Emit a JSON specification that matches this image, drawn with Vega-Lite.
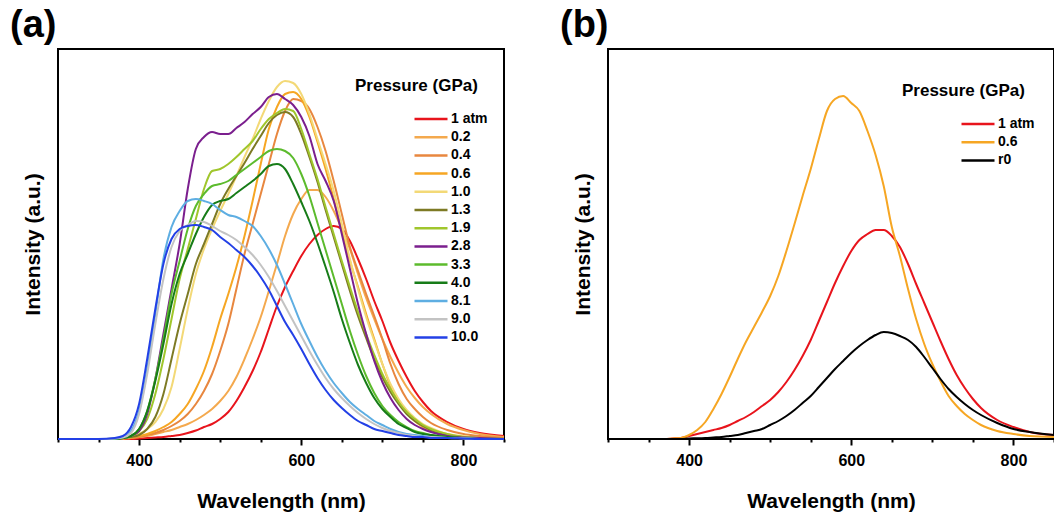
{
  "$schema": "https://vega.github.io/schema/vega-lite/v6.json",
  "background": "white",
  "padding": {"left": 9, "top": 6, "right": 0, "bottom": 0},
  "spacing": 50,
  "config": {
    "font": "Liberation Sans",
    "view": {"stroke": "black", "strokeWidth": 2},
    "axisX": {
      "grid": false, "domain": false, "tickColor": "black", "tickWidth": 2,
      "tickSize": {"expr": "datum.value % 200 == 0 ? 6 : 3"},
      "values": [400, 500, 600, 700, 800],
      "labelExpr": "datum.value % 200 == 0 ? datum.label : ''",
      "labelFontSize": 16, "labelFontWeight": "bold", "labelColor": "black", "labelPadding": 7,
      "titleFontSize": 21, "titleFontWeight": "bold", "titleColor": "black", "titlePadding": 22
    },
    "axisY": {
      "grid": false, "domain": false, "ticks": false, "labels": false,
      "titleFontSize": 21, "titleFontWeight": "bold", "titleColor": "black", "titlePadding": 15
    },
    "legend": {
      "orient": "none", "titleFontSize": 17, "titleFontWeight": "bold", "titleColor": "black",
      "titlePadding": 17, "labelFontSize": 14, "labelFontWeight": "bold", "labelColor": "black",
      "symbolType": "stroke", "symbolSize": 1089, "symbolStrokeWidth": 2.5, "symbolOffset": 58,
      "clipHeight": 14, "rowPadding": 4.2, "labelOffset": 2
    },
    "title": {"fontSize": 38, "fontWeight": "bold", "font": "Liberation Sans", "color": "black", "anchor": "start", "frame": "bounds", "offset": 0, "dx": -12}
  },
  "resolve": {"scale": {"color": "independent", "x": "independent", "y": "independent"}, "legend": {"color": "independent"}},
  "datasets": {
    "a": [
{"p":"1 atm","x":300,"y":0},{"p":"1 atm","x":350,"y":0},{"p":"1 atm","x":370,"y":0},{"p":"1 atm","x":380,"y":0},{"p":"1 atm","x":390,"y":0},{"p":"1 atm","x":400,"y":0.5},{"p":"1 atm","x":410,"y":1},{"p":"1 atm","x":420,"y":1.5},{"p":"1 atm","x":430,"y":2},{"p":"1 atm","x":440,"y":3},{"p":"1 atm","x":450,"y":4},{"p":"1 atm","x":460,"y":6},{"p":"1 atm","x":470,"y":8.5},{"p":"1 atm","x":480,"y":12},{"p":"1 atm","x":490,"y":15},{"p":"1 atm","x":500,"y":20},{"p":"1 atm","x":510,"y":27},{"p":"1 atm","x":520,"y":38},{"p":"1 atm","x":530,"y":52},{"p":"1 atm","x":540,"y":68},{"p":"1 atm","x":550,"y":87},{"p":"1 atm","x":560,"y":110},{"p":"1 atm","x":570,"y":133},{"p":"1 atm","x":580,"y":152},{"p":"1 atm","x":590,"y":168},{"p":"1 atm","x":600,"y":183},{"p":"1 atm","x":610,"y":195},{"p":"1 atm","x":620,"y":204},{"p":"1 atm","x":630,"y":210},{"p":"1 atm","x":640,"y":213},{"p":"1 atm","x":650,"y":210},{"p":"1 atm","x":660,"y":198},{"p":"1 atm","x":670,"y":180},{"p":"1 atm","x":680,"y":160},{"p":"1 atm","x":690,"y":138},{"p":"1 atm","x":700,"y":118},{"p":"1 atm","x":710,"y":96},{"p":"1 atm","x":720,"y":78},{"p":"1 atm","x":730,"y":62},{"p":"1 atm","x":740,"y":48},{"p":"1 atm","x":750,"y":37},{"p":"1 atm","x":760,"y":28},{"p":"1 atm","x":780,"y":17},{"p":"1 atm","x":800,"y":10},{"p":"1 atm","x":820,"y":6},{"p":"1 atm","x":850,"y":3},
{"p":"0.2","x":300,"y":0},{"p":"0.2","x":350,"y":0},{"p":"0.2","x":370,"y":0},{"p":"0.2","x":380,"y":0.5},{"p":"0.2","x":390,"y":1},{"p":"0.2","x":400,"y":2},{"p":"0.2","x":410,"y":3},{"p":"0.2","x":420,"y":5},{"p":"0.2","x":430,"y":7},{"p":"0.2","x":440,"y":9},{"p":"0.2","x":450,"y":12},{"p":"0.2","x":460,"y":15},{"p":"0.2","x":470,"y":19},{"p":"0.2","x":480,"y":24},{"p":"0.2","x":490,"y":30},{"p":"0.2","x":500,"y":38},{"p":"0.2","x":510,"y":48},{"p":"0.2","x":520,"y":62},{"p":"0.2","x":530,"y":80},{"p":"0.2","x":540,"y":100},{"p":"0.2","x":550,"y":122},{"p":"0.2","x":560,"y":148},{"p":"0.2","x":570,"y":175},{"p":"0.2","x":580,"y":203},{"p":"0.2","x":590,"y":225},{"p":"0.2","x":600,"y":240},{"p":"0.2","x":610,"y":249},{"p":"0.2","x":620,"y":249},{"p":"0.2","x":630,"y":242},{"p":"0.2","x":640,"y":228},{"p":"0.2","x":650,"y":210},{"p":"0.2","x":660,"y":190},{"p":"0.2","x":670,"y":165},{"p":"0.2","x":680,"y":141},{"p":"0.2","x":690,"y":120},{"p":"0.2","x":700,"y":100},{"p":"0.2","x":710,"y":82},{"p":"0.2","x":720,"y":66},{"p":"0.2","x":730,"y":52},{"p":"0.2","x":740,"y":41},{"p":"0.2","x":750,"y":32},{"p":"0.2","x":760,"y":25},{"p":"0.2","x":780,"y":15},{"p":"0.2","x":800,"y":9},{"p":"0.2","x":820,"y":5},{"p":"0.2","x":850,"y":2},
{"p":"0.4","x":300,"y":0},{"p":"0.4","x":350,"y":0},{"p":"0.4","x":370,"y":0},{"p":"0.4","x":380,"y":0.5},{"p":"0.4","x":390,"y":1},{"p":"0.4","x":400,"y":2},{"p":"0.4","x":410,"y":4},{"p":"0.4","x":420,"y":6},{"p":"0.4","x":430,"y":9},{"p":"0.4","x":440,"y":13},{"p":"0.4","x":450,"y":18},{"p":"0.4","x":460,"y":25},{"p":"0.4","x":470,"y":35},{"p":"0.4","x":480,"y":48},{"p":"0.4","x":490,"y":65},{"p":"0.4","x":500,"y":88},{"p":"0.4","x":510,"y":115},{"p":"0.4","x":520,"y":150},{"p":"0.4","x":530,"y":185},{"p":"0.4","x":540,"y":215},{"p":"0.4","x":550,"y":245},{"p":"0.4","x":560,"y":275},{"p":"0.4","x":570,"y":305},{"p":"0.4","x":580,"y":328},{"p":"0.4","x":590,"y":340},{"p":"0.4","x":600,"y":338},{"p":"0.4","x":610,"y":330},{"p":"0.4","x":620,"y":312},{"p":"0.4","x":630,"y":288},{"p":"0.4","x":640,"y":258},{"p":"0.4","x":650,"y":225},{"p":"0.4","x":660,"y":192},{"p":"0.4","x":670,"y":168},{"p":"0.4","x":680,"y":145},{"p":"0.4","x":690,"y":123},{"p":"0.4","x":700,"y":100},{"p":"0.4","x":710,"y":75},{"p":"0.4","x":720,"y":55},{"p":"0.4","x":730,"y":40},{"p":"0.4","x":740,"y":30},{"p":"0.4","x":750,"y":22},{"p":"0.4","x":760,"y":16},{"p":"0.4","x":780,"y":9},{"p":"0.4","x":800,"y":5},{"p":"0.4","x":820,"y":3},{"p":"0.4","x":850,"y":1},
{"p":"0.6","x":300,"y":0},{"p":"0.6","x":350,"y":0},{"p":"0.6","x":370,"y":0},{"p":"0.6","x":380,"y":0.5},{"p":"0.6","x":390,"y":1.5},{"p":"0.6","x":400,"y":3},{"p":"0.6","x":410,"y":5},{"p":"0.6","x":420,"y":8},{"p":"0.6","x":430,"y":12},{"p":"0.6","x":440,"y":17},{"p":"0.6","x":450,"y":25},{"p":"0.6","x":460,"y":35},{"p":"0.6","x":470,"y":50},{"p":"0.6","x":480,"y":68},{"p":"0.6","x":490,"y":92},{"p":"0.6","x":500,"y":120},{"p":"0.6","x":510,"y":145},{"p":"0.6","x":520,"y":172},{"p":"0.6","x":530,"y":203},{"p":"0.6","x":540,"y":238},{"p":"0.6","x":550,"y":275},{"p":"0.6","x":560,"y":310},{"p":"0.6","x":570,"y":332},{"p":"0.6","x":580,"y":345},{"p":"0.6","x":590,"y":347},{"p":"0.6","x":600,"y":340},{"p":"0.6","x":610,"y":322},{"p":"0.6","x":620,"y":297},{"p":"0.6","x":630,"y":270},{"p":"0.6","x":640,"y":240},{"p":"0.6","x":650,"y":208},{"p":"0.6","x":660,"y":178},{"p":"0.6","x":670,"y":152},{"p":"0.6","x":680,"y":125},{"p":"0.6","x":690,"y":100},{"p":"0.6","x":700,"y":75},{"p":"0.6","x":710,"y":53},{"p":"0.6","x":720,"y":37},{"p":"0.6","x":730,"y":26},{"p":"0.6","x":740,"y":18},{"p":"0.6","x":750,"y":12},{"p":"0.6","x":760,"y":8},{"p":"0.6","x":780,"y":4},{"p":"0.6","x":800,"y":2},{"p":"0.6","x":820,"y":1},{"p":"0.6","x":850,"y":0},
{"p":"1.0","x":300,"y":0},{"p":"1.0","x":350,"y":0},{"p":"1.0","x":370,"y":0.5},{"p":"1.0","x":380,"y":1},{"p":"1.0","x":390,"y":2},{"p":"1.0","x":400,"y":5},{"p":"1.0","x":410,"y":10},{"p":"1.0","x":420,"y":17},{"p":"1.0","x":430,"y":30},{"p":"1.0","x":440,"y":52},{"p":"1.0","x":450,"y":90},{"p":"1.0","x":460,"y":130},{"p":"1.0","x":470,"y":165},{"p":"1.0","x":480,"y":190},{"p":"1.0","x":490,"y":210},{"p":"1.0","x":500,"y":228},{"p":"1.0","x":510,"y":245},{"p":"1.0","x":520,"y":263},{"p":"1.0","x":530,"y":282},{"p":"1.0","x":540,"y":300},{"p":"1.0","x":550,"y":320},{"p":"1.0","x":560,"y":338},{"p":"1.0","x":570,"y":352},{"p":"1.0","x":580,"y":358},{"p":"1.0","x":590,"y":356},{"p":"1.0","x":600,"y":345},{"p":"1.0","x":610,"y":325},{"p":"1.0","x":620,"y":300},{"p":"1.0","x":630,"y":275},{"p":"1.0","x":640,"y":248},{"p":"1.0","x":650,"y":215},{"p":"1.0","x":660,"y":180},{"p":"1.0","x":670,"y":150},{"p":"1.0","x":680,"y":122},{"p":"1.0","x":690,"y":98},{"p":"1.0","x":700,"y":75},{"p":"1.0","x":710,"y":55},{"p":"1.0","x":720,"y":40},{"p":"1.0","x":730,"y":29},{"p":"1.0","x":740,"y":21},{"p":"1.0","x":750,"y":15},{"p":"1.0","x":760,"y":11},{"p":"1.0","x":780,"y":5},{"p":"1.0","x":800,"y":3},{"p":"1.0","x":820,"y":1},{"p":"1.0","x":850,"y":0},
{"p":"1.3","x":300,"y":0},{"p":"1.3","x":350,"y":0},{"p":"1.3","x":370,"y":0},{"p":"1.3","x":380,"y":1},{"p":"1.3","x":390,"y":2},{"p":"1.3","x":400,"y":4},{"p":"1.3","x":410,"y":10},{"p":"1.3","x":420,"y":22},{"p":"1.3","x":430,"y":45},{"p":"1.3","x":440,"y":80},{"p":"1.3","x":450,"y":115},{"p":"1.3","x":460,"y":145},{"p":"1.3","x":470,"y":175},{"p":"1.3","x":480,"y":195},{"p":"1.3","x":490,"y":215},{"p":"1.3","x":500,"y":235},{"p":"1.3","x":510,"y":250},{"p":"1.3","x":520,"y":263},{"p":"1.3","x":530,"y":276},{"p":"1.3","x":540,"y":290},{"p":"1.3","x":550,"y":303},{"p":"1.3","x":560,"y":316},{"p":"1.3","x":570,"y":324},{"p":"1.3","x":580,"y":327},{"p":"1.3","x":590,"y":322},{"p":"1.3","x":600,"y":305},{"p":"1.3","x":610,"y":282},{"p":"1.3","x":620,"y":257},{"p":"1.3","x":630,"y":229},{"p":"1.3","x":640,"y":202},{"p":"1.3","x":650,"y":175},{"p":"1.3","x":660,"y":148},{"p":"1.3","x":670,"y":123},{"p":"1.3","x":680,"y":101},{"p":"1.3","x":690,"y":80},{"p":"1.3","x":700,"y":62},{"p":"1.3","x":710,"y":47},{"p":"1.3","x":720,"y":35},{"p":"1.3","x":730,"y":25},{"p":"1.3","x":740,"y":18},{"p":"1.3","x":750,"y":13},{"p":"1.3","x":760,"y":9},{"p":"1.3","x":780,"y":4},{"p":"1.3","x":800,"y":2},{"p":"1.3","x":820,"y":1},{"p":"1.3","x":850,"y":0},
{"p":"1.9","x":300,"y":0},{"p":"1.9","x":350,"y":0},{"p":"1.9","x":370,"y":0},{"p":"1.9","x":380,"y":1},{"p":"1.9","x":390,"y":3},{"p":"1.9","x":400,"y":8},{"p":"1.9","x":410,"y":20},{"p":"1.9","x":420,"y":45},{"p":"1.9","x":430,"y":80},{"p":"1.9","x":440,"y":120},{"p":"1.9","x":450,"y":160},{"p":"1.9","x":460,"y":190},{"p":"1.9","x":470,"y":220},{"p":"1.9","x":480,"y":250},{"p":"1.9","x":490,"y":268},{"p":"1.9","x":500,"y":270},{"p":"1.9","x":510,"y":275},{"p":"1.9","x":520,"y":282},{"p":"1.9","x":530,"y":290},{"p":"1.9","x":540,"y":298},{"p":"1.9","x":550,"y":310},{"p":"1.9","x":560,"y":320},{"p":"1.9","x":570,"y":326},{"p":"1.9","x":580,"y":330},{"p":"1.9","x":590,"y":328},{"p":"1.9","x":600,"y":310},{"p":"1.9","x":610,"y":285},{"p":"1.9","x":620,"y":260},{"p":"1.9","x":630,"y":232},{"p":"1.9","x":640,"y":205},{"p":"1.9","x":650,"y":178},{"p":"1.9","x":660,"y":152},{"p":"1.9","x":670,"y":127},{"p":"1.9","x":680,"y":105},{"p":"1.9","x":690,"y":84},{"p":"1.9","x":700,"y":65},{"p":"1.9","x":710,"y":50},{"p":"1.9","x":720,"y":37},{"p":"1.9","x":730,"y":27},{"p":"1.9","x":740,"y":20},{"p":"1.9","x":750,"y":14},{"p":"1.9","x":760,"y":10},{"p":"1.9","x":780,"y":5},{"p":"1.9","x":800,"y":2},{"p":"1.9","x":820,"y":1},{"p":"1.9","x":850,"y":0},
{"p":"2.8","x":300,"y":0},{"p":"2.8","x":350,"y":0},{"p":"2.8","x":370,"y":0},{"p":"2.8","x":380,"y":1},{"p":"2.8","x":390,"y":3},{"p":"2.8","x":400,"y":8},{"p":"2.8","x":410,"y":25},{"p":"2.8","x":420,"y":60},{"p":"2.8","x":430,"y":105},{"p":"2.8","x":440,"y":150},{"p":"2.8","x":450,"y":195},{"p":"2.8","x":460,"y":250},{"p":"2.8","x":470,"y":290},{"p":"2.8","x":480,"y":302},{"p":"2.8","x":490,"y":307},{"p":"2.8","x":500,"y":305},{"p":"2.8","x":510,"y":305},{"p":"2.8","x":520,"y":311},{"p":"2.8","x":530,"y":317},{"p":"2.8","x":540,"y":325},{"p":"2.8","x":550,"y":332},{"p":"2.8","x":560,"y":342},{"p":"2.8","x":570,"y":345},{"p":"2.8","x":580,"y":340},{"p":"2.8","x":590,"y":334},{"p":"2.8","x":600,"y":322},{"p":"2.8","x":610,"y":303},{"p":"2.8","x":620,"y":275},{"p":"2.8","x":630,"y":258},{"p":"2.8","x":640,"y":238},{"p":"2.8","x":650,"y":205},{"p":"2.8","x":660,"y":170},{"p":"2.8","x":670,"y":135},{"p":"2.8","x":680,"y":105},{"p":"2.8","x":690,"y":78},{"p":"2.8","x":700,"y":57},{"p":"2.8","x":710,"y":41},{"p":"2.8","x":720,"y":29},{"p":"2.8","x":730,"y":20},{"p":"2.8","x":740,"y":14},{"p":"2.8","x":750,"y":10},{"p":"2.8","x":760,"y":7},{"p":"2.8","x":780,"y":3},{"p":"2.8","x":800,"y":1.5},{"p":"2.8","x":820,"y":1},{"p":"2.8","x":850,"y":0},
{"p":"3.3","x":300,"y":0},{"p":"3.3","x":350,"y":0},{"p":"3.3","x":370,"y":0},{"p":"3.3","x":380,"y":1},{"p":"3.3","x":390,"y":3},{"p":"3.3","x":400,"y":10},{"p":"3.3","x":410,"y":28},{"p":"3.3","x":420,"y":60},{"p":"3.3","x":430,"y":100},{"p":"3.3","x":440,"y":145},{"p":"3.3","x":450,"y":178},{"p":"3.3","x":460,"y":210},{"p":"3.3","x":470,"y":233},{"p":"3.3","x":480,"y":245},{"p":"3.3","x":490,"y":253},{"p":"3.3","x":500,"y":255},{"p":"3.3","x":510,"y":258},{"p":"3.3","x":520,"y":264},{"p":"3.3","x":530,"y":270},{"p":"3.3","x":540,"y":276},{"p":"3.3","x":550,"y":282},{"p":"3.3","x":560,"y":288},{"p":"3.3","x":570,"y":290},{"p":"3.3","x":580,"y":288},{"p":"3.3","x":590,"y":281},{"p":"3.3","x":600,"y":265},{"p":"3.3","x":610,"y":243},{"p":"3.3","x":620,"y":216},{"p":"3.3","x":630,"y":189},{"p":"3.3","x":640,"y":162},{"p":"3.3","x":650,"y":135},{"p":"3.3","x":660,"y":108},{"p":"3.3","x":670,"y":84},{"p":"3.3","x":680,"y":63},{"p":"3.3","x":690,"y":46},{"p":"3.3","x":700,"y":33},{"p":"3.3","x":710,"y":24},{"p":"3.3","x":720,"y":17},{"p":"3.3","x":730,"y":12},{"p":"3.3","x":740,"y":8},{"p":"3.3","x":750,"y":6},{"p":"3.3","x":760,"y":4},{"p":"3.3","x":780,"y":2},{"p":"3.3","x":800,"y":1},{"p":"3.3","x":820,"y":0},{"p":"3.3","x":850,"y":0},
{"p":"4.0","x":300,"y":0},{"p":"4.0","x":350,"y":0},{"p":"4.0","x":370,"y":0},{"p":"4.0","x":380,"y":1},{"p":"4.0","x":390,"y":3},{"p":"4.0","x":400,"y":10},{"p":"4.0","x":410,"y":28},{"p":"4.0","x":420,"y":58},{"p":"4.0","x":430,"y":95},{"p":"4.0","x":440,"y":135},{"p":"4.0","x":450,"y":165},{"p":"4.0","x":460,"y":185},{"p":"4.0","x":470,"y":205},{"p":"4.0","x":480,"y":222},{"p":"4.0","x":490,"y":234},{"p":"4.0","x":500,"y":238},{"p":"4.0","x":510,"y":240},{"p":"4.0","x":520,"y":246},{"p":"4.0","x":530,"y":252},{"p":"4.0","x":540,"y":258},{"p":"4.0","x":550,"y":265},{"p":"4.0","x":560,"y":273},{"p":"4.0","x":570,"y":275},{"p":"4.0","x":580,"y":270},{"p":"4.0","x":590,"y":255},{"p":"4.0","x":600,"y":237},{"p":"4.0","x":610,"y":218},{"p":"4.0","x":620,"y":196},{"p":"4.0","x":630,"y":172},{"p":"4.0","x":640,"y":147},{"p":"4.0","x":650,"y":120},{"p":"4.0","x":660,"y":96},{"p":"4.0","x":670,"y":74},{"p":"4.0","x":680,"y":56},{"p":"4.0","x":690,"y":41},{"p":"4.0","x":700,"y":30},{"p":"4.0","x":710,"y":22},{"p":"4.0","x":720,"y":15},{"p":"4.0","x":730,"y":11},{"p":"4.0","x":740,"y":7},{"p":"4.0","x":750,"y":5},{"p":"4.0","x":760,"y":4},{"p":"4.0","x":780,"y":2},{"p":"4.0","x":800,"y":1},{"p":"4.0","x":820,"y":0},{"p":"4.0","x":850,"y":0},
{"p":"8.1","x":300,"y":0},{"p":"8.1","x":350,"y":0},{"p":"8.1","x":370,"y":0.5},{"p":"8.1","x":380,"y":2},{"p":"8.1","x":390,"y":8},{"p":"8.1","x":400,"y":28},{"p":"8.1","x":410,"y":70},{"p":"8.1","x":420,"y":125},{"p":"8.1","x":430,"y":180},{"p":"8.1","x":440,"y":212},{"p":"8.1","x":450,"y":228},{"p":"8.1","x":460,"y":238},{"p":"8.1","x":470,"y":240},{"p":"8.1","x":480,"y":238},{"p":"8.1","x":490,"y":235},{"p":"8.1","x":500,"y":229},{"p":"8.1","x":510,"y":224},{"p":"8.1","x":520,"y":222},{"p":"8.1","x":530,"y":218},{"p":"8.1","x":540,"y":213},{"p":"8.1","x":550,"y":203},{"p":"8.1","x":560,"y":190},{"p":"8.1","x":570,"y":174},{"p":"8.1","x":580,"y":155},{"p":"8.1","x":590,"y":135},{"p":"8.1","x":600,"y":115},{"p":"8.1","x":610,"y":98},{"p":"8.1","x":620,"y":82},{"p":"8.1","x":630,"y":68},{"p":"8.1","x":640,"y":56},{"p":"8.1","x":650,"y":46},{"p":"8.1","x":660,"y":37},{"p":"8.1","x":670,"y":30},{"p":"8.1","x":680,"y":24},{"p":"8.1","x":690,"y":18},{"p":"8.1","x":700,"y":14},{"p":"8.1","x":710,"y":10},{"p":"8.1","x":720,"y":7},{"p":"8.1","x":730,"y":5},{"p":"8.1","x":740,"y":4},{"p":"8.1","x":750,"y":3},{"p":"8.1","x":760,"y":2},{"p":"8.1","x":780,"y":1},{"p":"8.1","x":800,"y":1},{"p":"8.1","x":820,"y":0},{"p":"8.1","x":850,"y":0},
{"p":"9.0","x":300,"y":0},{"p":"9.0","x":350,"y":0},{"p":"9.0","x":370,"y":0.5},{"p":"9.0","x":380,"y":1.5},{"p":"9.0","x":390,"y":6},{"p":"9.0","x":400,"y":25},{"p":"9.0","x":410,"y":65},{"p":"9.0","x":420,"y":115},{"p":"9.0","x":430,"y":160},{"p":"9.0","x":440,"y":192},{"p":"9.0","x":450,"y":208},{"p":"9.0","x":460,"y":214},{"p":"9.0","x":470,"y":218},{"p":"9.0","x":480,"y":217},{"p":"9.0","x":490,"y":213},{"p":"9.0","x":500,"y":208},{"p":"9.0","x":510,"y":204},{"p":"9.0","x":520,"y":199},{"p":"9.0","x":530,"y":192},{"p":"9.0","x":540,"y":184},{"p":"9.0","x":550,"y":174},{"p":"9.0","x":560,"y":162},{"p":"9.0","x":570,"y":148},{"p":"9.0","x":580,"y":133},{"p":"9.0","x":590,"y":118},{"p":"9.0","x":600,"y":103},{"p":"9.0","x":610,"y":88},{"p":"9.0","x":620,"y":74},{"p":"9.0","x":630,"y":61},{"p":"9.0","x":640,"y":50},{"p":"9.0","x":650,"y":41},{"p":"9.0","x":660,"y":33},{"p":"9.0","x":670,"y":26},{"p":"9.0","x":680,"y":20},{"p":"9.0","x":690,"y":15},{"p":"9.0","x":700,"y":11},{"p":"9.0","x":710,"y":8},{"p":"9.0","x":720,"y":6},{"p":"9.0","x":730,"y":4},{"p":"9.0","x":740,"y":3},{"p":"9.0","x":750,"y":2},{"p":"9.0","x":760,"y":2},{"p":"9.0","x":780,"y":1},{"p":"9.0","x":800,"y":0.5},{"p":"9.0","x":820,"y":0},{"p":"9.0","x":850,"y":0},
{"p":"10.0","x":300,"y":0},{"p":"10.0","x":350,"y":0},{"p":"10.0","x":370,"y":1},{"p":"10.0","x":380,"y":3},{"p":"10.0","x":390,"y":12},{"p":"10.0","x":400,"y":35},{"p":"10.0","x":410,"y":80},{"p":"10.0","x":420,"y":130},{"p":"10.0","x":430,"y":175},{"p":"10.0","x":440,"y":200},{"p":"10.0","x":450,"y":210},{"p":"10.0","x":460,"y":213},{"p":"10.0","x":470,"y":214},{"p":"10.0","x":480,"y":212},{"p":"10.0","x":490,"y":209},{"p":"10.0","x":500,"y":202},{"p":"10.0","x":510,"y":196},{"p":"10.0","x":520,"y":189},{"p":"10.0","x":530,"y":182},{"p":"10.0","x":540,"y":173},{"p":"10.0","x":550,"y":162},{"p":"10.0","x":560,"y":149},{"p":"10.0","x":570,"y":133},{"p":"10.0","x":580,"y":117},{"p":"10.0","x":590,"y":104},{"p":"10.0","x":600,"y":90},{"p":"10.0","x":610,"y":75},{"p":"10.0","x":620,"y":61},{"p":"10.0","x":630,"y":49},{"p":"10.0","x":640,"y":39},{"p":"10.0","x":650,"y":31},{"p":"10.0","x":660,"y":24},{"p":"10.0","x":670,"y":18},{"p":"10.0","x":680,"y":14},{"p":"10.0","x":690,"y":10},{"p":"10.0","x":700,"y":8},{"p":"10.0","x":710,"y":6},{"p":"10.0","x":720,"y":4},{"p":"10.0","x":730,"y":3},{"p":"10.0","x":740,"y":2},{"p":"10.0","x":750,"y":2},{"p":"10.0","x":760,"y":1},{"p":"10.0","x":780,"y":1},{"p":"10.0","x":800,"y":0.5},{"p":"10.0","x":820,"y":0},{"p":"10.0","x":850,"y":0}
    ],
    "b": [
{"p":"1 atm","x":300,"y":0},{"p":"1 atm","x":350,"y":0},{"p":"1 atm","x":370,"y":0},{"p":"1 atm","x":380,"y":0.5},{"p":"1 atm","x":390,"y":1},{"p":"1 atm","x":400,"y":3},{"p":"1 atm","x":410,"y":5},{"p":"1 atm","x":420,"y":7},{"p":"1 atm","x":430,"y":9},{"p":"1 atm","x":440,"y":11},{"p":"1 atm","x":450,"y":14},{"p":"1 atm","x":460,"y":18},{"p":"1 atm","x":470,"y":22},{"p":"1 atm","x":480,"y":27},{"p":"1 atm","x":490,"y":33},{"p":"1 atm","x":500,"y":39},{"p":"1 atm","x":510,"y":47},{"p":"1 atm","x":520,"y":57},{"p":"1 atm","x":530,"y":69},{"p":"1 atm","x":540,"y":83},{"p":"1 atm","x":550,"y":99},{"p":"1 atm","x":560,"y":118},{"p":"1 atm","x":570,"y":137},{"p":"1 atm","x":580,"y":156},{"p":"1 atm","x":590,"y":173},{"p":"1 atm","x":600,"y":188},{"p":"1 atm","x":610,"y":199},{"p":"1 atm","x":620,"y":205},{"p":"1 atm","x":630,"y":209},{"p":"1 atm","x":640,"y":209},{"p":"1 atm","x":650,"y":203},{"p":"1 atm","x":660,"y":192},{"p":"1 atm","x":670,"y":175},{"p":"1 atm","x":680,"y":155},{"p":"1 atm","x":690,"y":136},{"p":"1 atm","x":700,"y":117},{"p":"1 atm","x":710,"y":98},{"p":"1 atm","x":720,"y":80},{"p":"1 atm","x":730,"y":64},{"p":"1 atm","x":740,"y":51},{"p":"1 atm","x":750,"y":40},{"p":"1 atm","x":760,"y":31},{"p":"1 atm","x":780,"y":19},{"p":"1 atm","x":800,"y":12},{"p":"1 atm","x":820,"y":7},{"p":"1 atm","x":850,"y":4},
{"p":"0.6","x":300,"y":0},{"p":"0.6","x":350,"y":0},{"p":"0.6","x":370,"y":0},{"p":"0.6","x":380,"y":0.5},{"p":"0.6","x":390,"y":1},{"p":"0.6","x":400,"y":4},{"p":"0.6","x":410,"y":9},{"p":"0.6","x":420,"y":17},{"p":"0.6","x":430,"y":30},{"p":"0.6","x":440,"y":45},{"p":"0.6","x":450,"y":62},{"p":"0.6","x":460,"y":80},{"p":"0.6","x":470,"y":97},{"p":"0.6","x":480,"y":112},{"p":"0.6","x":490,"y":127},{"p":"0.6","x":500,"y":143},{"p":"0.6","x":510,"y":163},{"p":"0.6","x":520,"y":188},{"p":"0.6","x":530,"y":215},{"p":"0.6","x":540,"y":243},{"p":"0.6","x":550,"y":270},{"p":"0.6","x":560,"y":300},{"p":"0.6","x":570,"y":328},{"p":"0.6","x":580,"y":340},{"p":"0.6","x":590,"y":343},{"p":"0.6","x":600,"y":336},{"p":"0.6","x":610,"y":328},{"p":"0.6","x":620,"y":308},{"p":"0.6","x":630,"y":284},{"p":"0.6","x":640,"y":253},{"p":"0.6","x":650,"y":212},{"p":"0.6","x":660,"y":183},{"p":"0.6","x":670,"y":150},{"p":"0.6","x":680,"y":120},{"p":"0.6","x":690,"y":95},{"p":"0.6","x":700,"y":75},{"p":"0.6","x":710,"y":58},{"p":"0.6","x":720,"y":43},{"p":"0.6","x":730,"y":33},{"p":"0.6","x":740,"y":25},{"p":"0.6","x":750,"y":19},{"p":"0.6","x":760,"y":14},{"p":"0.6","x":780,"y":8},{"p":"0.6","x":800,"y":5},{"p":"0.6","x":820,"y":3},{"p":"0.6","x":850,"y":2},
{"p":"r0","x":300,"y":0},{"p":"r0","x":350,"y":0},{"p":"r0","x":370,"y":0},{"p":"r0","x":380,"y":0},{"p":"r0","x":390,"y":0},{"p":"r0","x":400,"y":0.5},{"p":"r0","x":410,"y":0.7},{"p":"r0","x":420,"y":1},{"p":"r0","x":430,"y":1.5},{"p":"r0","x":440,"y":2},{"p":"r0","x":450,"y":3},{"p":"r0","x":460,"y":4},{"p":"r0","x":470,"y":6},{"p":"r0","x":480,"y":8},{"p":"r0","x":490,"y":10},{"p":"r0","x":500,"y":14},{"p":"r0","x":510,"y":18},{"p":"r0","x":520,"y":23},{"p":"r0","x":530,"y":29},{"p":"r0","x":540,"y":36},{"p":"r0","x":550,"y":43},{"p":"r0","x":560,"y":52},{"p":"r0","x":570,"y":61},{"p":"r0","x":580,"y":70},{"p":"r0","x":590,"y":78},{"p":"r0","x":600,"y":86},{"p":"r0","x":610,"y":93},{"p":"r0","x":620,"y":99},{"p":"r0","x":630,"y":104},{"p":"r0","x":640,"y":107},{"p":"r0","x":650,"y":106},{"p":"r0","x":660,"y":103},{"p":"r0","x":670,"y":99},{"p":"r0","x":680,"y":92},{"p":"r0","x":690,"y":82},{"p":"r0","x":700,"y":71},{"p":"r0","x":710,"y":60},{"p":"r0","x":720,"y":50},{"p":"r0","x":730,"y":42},{"p":"r0","x":740,"y":35},{"p":"r0","x":750,"y":29},{"p":"r0","x":760,"y":24},{"p":"r0","x":780,"y":16},{"p":"r0","x":800,"y":10},{"p":"r0","x":820,"y":7},{"p":"r0","x":850,"y":4}
    ]
  },
  "hconcat": [
    {
      "width": 446, "height": 390,
      "title": {"text": "(a)"},
      "data": {"name": "a"},
      "mark": {"type": "line", "strokeWidth": 2, "interpolate": "monotone"},
      "encoding": {
        "x": {"field": "x", "type": "quantitative", "scale": {"domain": [300, 850], "nice": false, "zero": false}, "axis": {"title": "Wavelength (nm)"}},
        "y": {"field": "y", "type": "quantitative", "scale": {"domain": [0, 390], "nice": false}, "axis": {"title": "Intensity (a.u.)"}},
        "color": {"field": "p", "type": "nominal",
          "scale": {"domain": ["1 atm","0.2","0.4","0.6","1.0","1.3","1.9","2.8","3.3","4.0","8.1","9.0","10.0"],
                    "range": ["#e8141c","#f4a94e","#e8873f","#f6a623","#f3d977","#7d7a24","#a0c62c","#7b1f8e","#5cbb2d","#177c18","#5eaee2","#c3c3c3","#2340e6"]},
          "legend": {"title": "Pressure (GPa)", "legendX": 297, "legendY": 29}}
      }
    },
    {
      "width": 446, "height": 390,
      "title": {"text": "(b)"},
      "data": {"name": "b"},
      "mark": {"type": "line", "strokeWidth": 2, "interpolate": "monotone"},
      "encoding": {
        "x": {"field": "x", "type": "quantitative", "scale": {"domain": [300, 850], "nice": false, "zero": false}, "axis": {"title": "Wavelength (nm)"}},
        "y": {"field": "y", "type": "quantitative", "scale": {"domain": [0, 390], "nice": false}, "axis": {"title": "Intensity (a.u.)"}},
        "color": {"field": "p", "type": "nominal",
          "scale": {"domain": ["1 atm","0.6","r0"], "range": ["#e8141c","#f6a623","#000000"]},
          "legend": {"title": "Pressure (GPa)", "legendX": 294, "legendY": 34}}
      }
    }
  ]
}
